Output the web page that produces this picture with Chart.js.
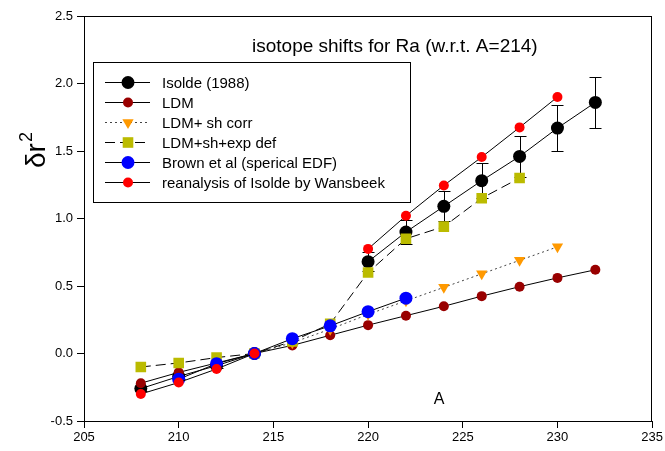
<!DOCTYPE html>
<html>
<head>
<meta charset="utf-8">
<script src="https://cdn.jsdelivr.net/npm/chart.js@4"></script>
<style>
  html, body { margin: 0; padding: 0; background: #fff; }
  #wrap { width: 665px; height: 451px; }
</style>
</head>
<body>
<div id="wrap"><canvas id="isoChart" width="665" height="451"></canvas></div>
<script>
// mass numbers (A)
const massNumbers = [208, 210, 212, 214, 216, 218, 220, 222, 224, 226, 228, 230, 232];

const isolde      = [-0.26, -0.17, -0.09, 0, null, null, 0.68, 0.90, 1.09, 1.28, 1.46, 1.67, 1.86];
const isoldeErr   = [0.02, 0.02, 0.02, 0, null, null, 0.07, 0.09, 0.11, 0.13, 0.15, 0.17, 0.19];
const ldm         = [-0.22, -0.14, -0.07, 0, 0.06, 0.135, 0.21, 0.28, 0.35, 0.425, 0.495, 0.56, 0.62];
const ldmShCorr   = [null, null, null, 0, 0.08, 0.18, 0.29, 0.39, 0.49, 0.59, 0.69, 0.79, null];
const ldmShExpDef = [-0.10, -0.07, -0.03, 0, 0.09, 0.22, 0.60, 0.85, 0.94, 1.15, 1.30, null, null];
const brown       = [null, -0.19, -0.075, 0, 0.11, 0.205, 0.31, 0.41, null, null, null, null, null];
const wansbeek    = [-0.30, -0.215, -0.115, 0, null, null, 0.775, 1.02, 1.245, 1.455, 1.675, 1.90, null];

const xTicks = [205, 210, 215, 220, 225, 230, 235];
const yTicks = [-0.5, 0.0, 0.5, 1.0, 1.5, 2.0, 2.5];

const seriesNames = [
    'Isolde (1988)',
    'LDM',
    'LDM+ sh corr',
    'LDM+sh+exp def',
    'Brown et al (sperical EDF)',
    'reanalysis of Isolde by Wansbeek'
];

function pts(vals) {
    return massNumbers.map((a, i) => ({ x: a, y: vals[i] }));
}

function drawMarker(ctx, style, r, rot, x, y, color) {
    ctx.save();
    ctx.fillStyle = color;
    ctx.beginPath();
    if (style === 'rect') {
        const s = Math.SQRT1_2 * r;
        ctx.rect(x - s, y - s, 2 * s, 2 * s);
    } else if (style === 'triangle') {
        const sign = rot === 180 ? -1 : 1;
        for (let k = 0; k < 3; k++) {
            const ang = -Math.PI / 2 + k * 2 * Math.PI / 3;
            const px = x + r * Math.cos(ang);
            const py = y + sign * r * Math.sin(ang);
            if (k === 0) ctx.moveTo(px, py); else ctx.lineTo(px, py);
        }
        ctx.closePath();
    } else {
        ctx.arc(x, y, r, 0, Math.PI * 2);
    }
    ctx.fill();
    ctx.restore();
}

const errorBars = {
    id: 'errorBars',
    beforeDatasetsDraw(chart) {
        const ctx = chart.ctx;
        const xs = chart.scales.x, ys = chart.scales.y;
        ctx.save();
        ctx.strokeStyle = '#000';
        ctx.lineWidth = 1;
        isolde.forEach((v, i) => {
            const e = isoldeErr[i];
            if (v === null || !e) return;
            const x = Math.round(xs.getPixelForValue(massNumbers[i])) + 0.5;
            const yt = Math.round(ys.getPixelForValue(v + e)) + 0.5;
            const yb = Math.round(ys.getPixelForValue(v - e)) + 0.5;
            ctx.beginPath();
            ctx.moveTo(x, yt); ctx.lineTo(x, yb);
            ctx.moveTo(x - 6, yt); ctx.lineTo(x + 6, yt);
            ctx.moveTo(x - 6, yb); ctx.lineTo(x + 6, yb);
            ctx.stroke();
        });
        ctx.restore();
    }
};

const decorations = {
    id: 'decorations',
    afterDraw(chart) {
        const ctx = chart.ctx;
        const a = chart.chartArea;
        ctx.save();
        // frame
        ctx.strokeStyle = '#000';
        ctx.lineWidth = 1;
        ctx.strokeRect(Math.round(a.left) + 0.5, Math.round(a.top) + 0.5,
                       Math.round(a.right - a.left) - 1, Math.round(a.bottom - a.top));

        ctx.fillStyle = '#000';
        // title inside the plot
        ctx.font = '19px "Liberation Sans", Arial, sans-serif';
        ctx.textBaseline = 'middle';
        ctx.textAlign = 'left';
        ctx.fillText('isotope shifts for Ra (w.r.t. A=214)', 252, 47);

        // x axis label
        ctx.font = '16px "Liberation Sans", Arial, sans-serif';
        ctx.textAlign = 'center';
        ctx.fillText('A', 439, 400);

        // y axis label
        ctx.save();
        ctx.translate(45, 168);
        ctx.rotate(-Math.PI / 2);
        ctx.textAlign = 'left';
        ctx.textBaseline = 'alphabetic';
        ctx.font = '28px "Liberation Sans", Arial, sans-serif';
        ctx.fillText('\u03B4r', 0, 0);
        const w = ctx.measureText('\u03B4r').width;
        ctx.font = '18px "Liberation Sans", Arial, sans-serif';
        ctx.fillText('2', w + 1, -13);
        ctx.restore();

        // legend box
        ctx.fillStyle = '#fff';
        ctx.fillRect(93.5, 62.5, 317, 140);
        ctx.strokeRect(93.5, 62.5, 317, 140);
        ctx.font = '15px "Liberation Sans", Arial, sans-serif';
        ctx.textAlign = 'left';
        ctx.textBaseline = 'middle';
        chart.data.datasets.forEach((ds, i) => {
            const y = 82.5 + i * 20;
            ctx.save();
            ctx.strokeStyle = ds.borderColor;
            ctx.lineWidth = 1;
            ctx.setLineDash(ds.borderDash || []);
            ctx.beginPath();
            ctx.moveTo(105, y); ctx.lineTo(150, y);
            ctx.stroke();
            ctx.restore();
            drawMarker(ctx, ds.pointStyle, ds.pointRadius, ds.pointRotation || 0, 128, y, ds.pointBackgroundColor);
            ctx.fillStyle = '#000';
            ctx.fillText(ds.label, 162, y + 1);
        });
        ctx.restore();
    }
};

function series(label, vals, color, style, radius, extra) {
    return Object.assign({
        label: label,
        data: pts(vals),
        borderColor: '#000',
        borderWidth: 1,
        pointStyle: style,
        pointRadius: radius,
        pointHoverRadius: radius,
        pointBackgroundColor: color,
        pointBorderColor: color,
        pointBorderWidth: 0,
        spanGaps: false,
        tension: 0,
        fill: false
    }, extra || {});
}

new Chart(document.getElementById('isoChart').getContext('2d'), {
    type: 'line',
    data: {
        datasets: [
            series(seriesNames[0], isolde, '#000000', 'circle', 6.5, { order: 6 }),
            series(seriesNames[1], ldm, '#990000', 'circle', 5, { order: 5 }),
            series(seriesNames[2], ldmShCorr, '#ff9900', 'triangle', 6.5,
                   { order: 4, pointRotation: 180, borderDash: [2, 3], borderColor: '#444' }),
            series(seriesNames[3], ldmShExpDef, '#bbbb00', 'rect', 7.5,
                   { order: 3, borderDash: [10, 5] }),
            series(seriesNames[4], brown, '#0000ff', 'circle', 6.5, { order: 2 }),
            series(seriesNames[5], wansbeek, '#ff0000', 'circle', 5, { order: 1 })
        ]
    },
    options: {
        responsive: false,
        animation: false,
        events: [],
        layout: { padding: { left: 0, top: 16, right: 11, bottom: 0 } },
        plugins: {
            legend: { display: false },
            tooltip: { enabled: false },
            title: { display: false }
        },
        scales: {
            x: {
                type: 'linear',
                min: xTicks[0],
                max: xTicks[xTicks.length - 1],
                afterBuildTicks: s => { s.ticks = xTicks.map(v => ({ value: v })); },
                afterFit: s => { s.height = 30; },
                grid: { display: true, drawOnChartArea: false, drawTicks: true, tickLength: 7, color: '#000' },
                border: { display: true, color: '#000' },
                ticks: {
                    color: '#000',
                    padding: 2,
                    maxRotation: 0,
                    font: { family: '"Liberation Sans", Arial, sans-serif', size: 13 }
                }
            },
            y: {
                type: 'linear',
                min: yTicks[0],
                max: yTicks[yTicks.length - 1],
                afterBuildTicks: s => { s.ticks = yTicks.map(v => ({ value: v })); },
                afterFit: s => { s.width = 84; },
                grid: { display: true, drawOnChartArea: false, drawTicks: true, tickLength: 7, color: '#000' },
                border: { display: true, color: '#000' },
                ticks: {
                    color: '#000',
                    padding: 4,
                    callback: v => Number(v).toFixed(1),
                    font: { family: '"Liberation Sans", Arial, sans-serif', size: 13 }
                }
            }
        }
    },
    plugins: [errorBars, decorations]
});
</script>
</body>
</html>
